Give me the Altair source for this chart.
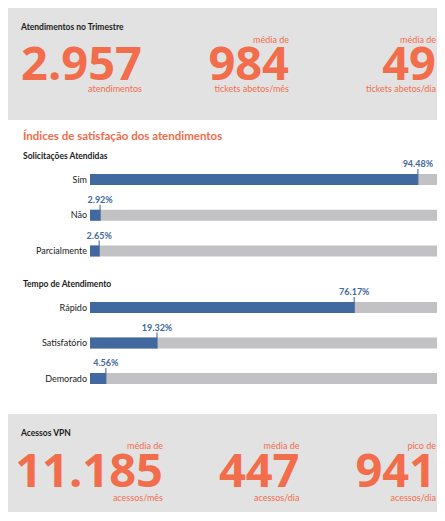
import altair as alt
import pandas as pd

# ---- data ----
kpi1_heading = "Atendimentos no Trimestre"
kpi1_top = ["", "média de", "média de"]
kpi1_values = ["2.957", "984", "49"]
kpi1_bottom = ["atendimentos", "tickets abetos/mês", "tickets abetos/dia"]

section_title = "Índices de satisfação dos atendimentos"
sol_title = "Solicitações Atendidas"
sol_cats = ["Sim", "Não", "Parcialmente"]
sol_vals = [94.48, 2.92, 2.65]

tempo_title = "Tempo de Atendimento"
tempo_cats = ["Rápido", "Satisfatório", "Demorado"]
tempo_vals = [76.17, 19.32, 4.56]

vpn_heading = "Acessos VPN"
vpn_top = ["média de", "média de", "pico de"]
vpn_values = ["11.185", "447", "941"]
vpn_bottom = ["acessos/mês", "acessos/dia", "acessos/dia"]

# ---- style ----
F = "Lato"
FBIG = "Open Sans"
ORANGE = "#f26d4c"
BLUE = "#4268a0"
TRACK = "#c2c2c4"
BOX = "#e2e2e2"
INK = "#1a1a1a"
W = 429


def kpi_panel(heading, tops, vals, bots, height, first_right, y_top, y_val, y_bot):
    df = pd.DataFrame({"col": [0, 1, 2], "top": tops, "value": vals, "bottom": bots})
    xenc = alt.X("col:Q", axis=None,
                 scale=alt.Scale(domain=[0, 2], range=[first_right, W - 1], nice=False, zero=False))
    base = alt.Chart(df).encode(x=xenc)
    top = base.mark_text(align="right", baseline="alphabetic", font=F, fontSize=9,
                         color=ORANGE).encode(y=alt.value(y_top), text="top:N")
    val = base.mark_text(align="right", baseline="alphabetic", font=FBIG, fontSize=47,
                         fontWeight="bold", color=ORANGE).encode(y=alt.value(y_val), text="value:N")
    bot = base.mark_text(align="right", baseline="alphabetic", font=F, fontSize=9,
                         color=ORANGE).encode(y=alt.value(y_bot), text="bottom:N")
    head = alt.Chart(pd.DataFrame({"t": [heading]})).mark_text(
        align="left", baseline="alphabetic", font=F, fontSize=8.5, fontWeight="bold", color=INK
    ).encode(x=alt.value(13), y=alt.value(22), text="t:N")
    return alt.layer(top, val, bot, head).properties(
        width=W, height=height, view=alt.ViewBackground(fill=BOX, strokeWidth=0))


def bar_panel(cats, vals, titles, height, y_range):
    df = pd.DataFrame({"cat": cats, "value": vals, "full": [100] * len(cats)})
    xs = alt.Scale(domain=[0, 100], range=[82, W], nice=False)
    ys = alt.Scale(type="point", range=y_range, padding=0)
    yenc = alt.Y("cat:N", sort=cats, scale=ys, axis=None)
    base = alt.Chart(df)
    track = base.mark_bar(size=11, color=TRACK).encode(
        x=alt.X("full:Q", scale=xs, axis=None), y=yenc)
    bar = base.mark_bar(size=11, color=BLUE).encode(
        x=alt.X("value:Q", scale=xs, axis=None), y=yenc)
    tick = base.mark_tick(size=16, thickness=1.5, yOffset=-2.5, color=BLUE).encode(
        x=alt.X("value:Q", scale=xs, axis=None), y=yenc)
    pct = base.mark_text(align="center", baseline="alphabetic", dy=-12.5, font=F, fontSize=9,
                         fontWeight="bold", color=BLUE).transform_calculate(
        lbl="format(datum.value, '.2f') + '%'").encode(
        x=alt.X("value:Q", scale=xs, axis=None), y=yenc, text="lbl:N")
    cat = base.mark_text(align="right", baseline="middle", font=F, fontSize=9, color=INK).encode(
        x=alt.value(79), y=yenc, text="cat:N")
    layers = [track, bar, tick, pct, cat]
    for txt, ty, size, color in titles:
        layers.append(alt.Chart(pd.DataFrame({"t": [txt]})).mark_text(
            align="left", baseline="alphabetic", font=F, fontSize=size, fontWeight="bold",
            color=color).encode(x=alt.value(15), y=alt.value(ty), text="t:N"))
    return alt.layer(*layers).properties(
        width=W, height=height, view=alt.ViewBackground(fill="white", strokeWidth=0))


A = kpi_panel(kpi1_heading, kpi1_top, kpi1_values, kpi1_bottom, 112, 134, 35, 72, 84)
B1 = bar_panel(sol_cats, sol_vals,
               [(section_title, 20, 11.5, ORANGE), (sol_title, 39, 8.5, INK)], 148, [59.5, 131])
B2 = bar_panel(tempo_cats, tempo_vals, [(tempo_title, 19, 8.5, INK)], 146, [39.5, 110.5])
C = kpi_panel(vpn_heading, vpn_top, vpn_values, vpn_bottom, 98, 155, 35, 73, 87)

chart = alt.vconcat(A, B1, B2, C, spacing=0).properties(padding=0).configure_view(stroke=None)

chart.save("out.html", embed_options={"renderer": "svg", "actions": False})
